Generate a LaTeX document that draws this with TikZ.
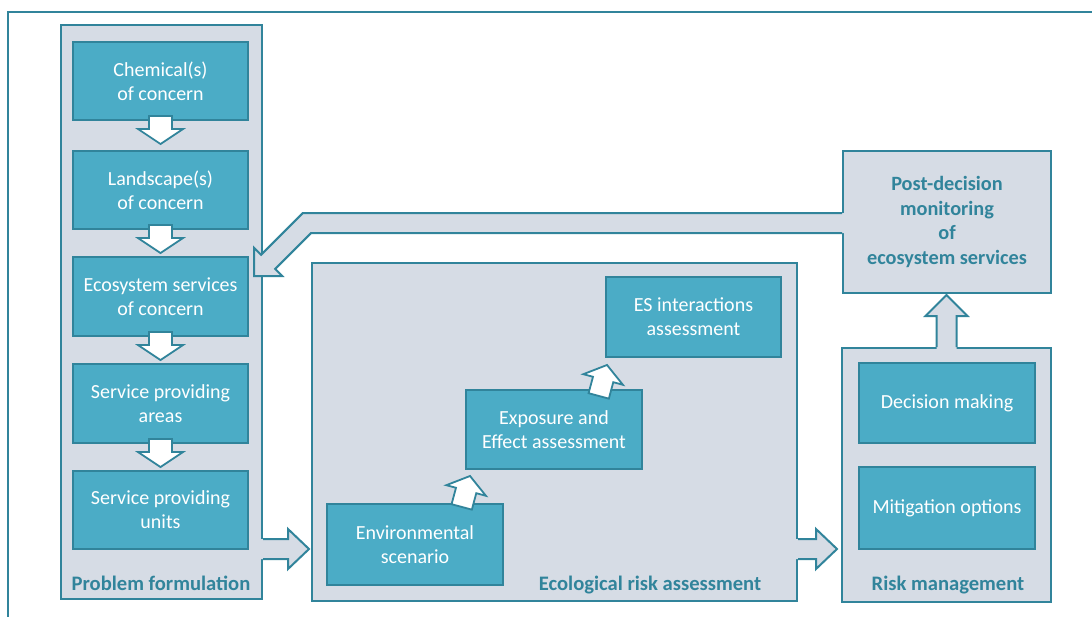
\documentclass[tikz,border=0pt]{standalone}
\usepackage{fontspec}
\setmainfont{Carlito}
\usetikzlibrary{calc}
\definecolor{edgec}{HTML}{31849B}
\definecolor{boxfill}{HTML}{4BACC6}
\definecolor{panelfill}{HTML}{D6DCE5}
\definecolor{labelc}{HTML}{31849B}
\newcommand\dnArrow[1]{%
  \begin{scope}[shift={(#1)}]
    \draw[smallarr] (-11.5,-5) -- (11.5,-5) -- (11.5,8) -- (22.5,8) -- (0,23) -- (-22.5,8) -- (-11.5,8) -- cycle;
  \end{scope}}
\newcommand\tiltArrow[1]{%
  \begin{scope}[shift={(#1)},rotate=-15]
    \draw[smallarr] (0,0) -- (20.5,15) -- (10.5,15) -- (10.5,32) -- (-10.5,32) -- (-10.5,15) -- (-20.5,15) -- cycle;
  \end{scope}}
\newcommand\rArrow[2]{%
  \fill[panelfill] ($(#1)+(-2,-10)$) -- ++(#2+2,0) -- ++(0,-10) -- ++(21,20) -- ++(-21,20) -- ++(0,-10) -- ++(-#2-2,0) -- cycle;
  \draw[bigline] ($(#1)+(0,-10)$) -- ++(#2,0) -- ++(0,-10) -- ++(21,20) -- ++(-21,20) -- ++(0,-10) -- ++(-#2,0);}
\begin{document}
\begin{tikzpicture}[x=1pt,y=-1pt,
  panel/.style={draw=edgec, fill=panelfill, line width=2pt, inner sep=0pt},
  box/.style={draw=edgec, fill=boxfill, line width=2pt, text=white, font=\fontsize{20}{24}\selectfont, align=center, inner sep=0pt},
  lbl/.style={text=labelc, font=\fontsize{20.6}{24}\selectfont\bfseries, inner sep=0pt, align=center},
  smallarr/.style={draw=edgec, fill=white, line width=1.8pt, line join=miter},
  bigline/.style={draw=edgec, line width=2pt, line join=miter}]
\useasboundingbox (0,0) rectangle (1092,616);
\clip (0,0) rectangle (1092,616);
% outer frame
\draw[edgec, line width=1.5pt] (8,12) rectangle (1120,650);
% panels
\node[panel, minimum width=201pt, minimum height=574pt] (pf) at (161.5,312) {};
\node[panel, minimum width=485pt, minimum height=338pt] (era) at (554.5,432) {};
\node[panel, minimum width=209pt, minimum height=254pt] (rm) at (946.5,475) {};
\node[panel, minimum width=208pt, minimum height=142pt, text=labelc, font=\fontsize{20.3}{24.6}\selectfont\bfseries, align=center] (post) at (947,222) {Post-decision\\monitoring\\of\\ecosystem services};
% big arrows
\coordinate (a1) at ($(pf.south east)+(0,-51)$);
\coordinate (a2) at ($(era.south east)+(0,-53)$);
\rArrow{a1}{25}
\rArrow{a2}{18}
% up arrow RM -> post
\fill[panelfill] ($(rm.north)+(-10,2)$) -- ++(0,-33) -- ++(-11,0) -- ++(21,-21) -- ++(21,21) -- ++(-11,0) -- ++(0,33) -- cycle;
\draw[bigline] ($(rm.north)+(-10,0)$) -- ++(0,-31) -- ++(-11,0) -- ++(21,-21) -- ++(21,21) -- ++(-11,0) -- ++(0,31);
% feedback arrow post -> ecosystem services
\coordinate (f1) at ($(post.west)+(0,-9)$);
\coordinate (f2) at ($(post.west)+(0,11)$);
\fill[panelfill] ($(f1)+(2,0)$) -- (302.9,213) -- (261.1,254.8) -- (254,247.8) -- (254,276) -- (282.2,276) -- (275.2,268.9) -- (311.1,233) -- ($(f2)+(2,0)$) -- cycle;
\draw[bigline] (f1) -- (302.9,213) -- (261.1,254.8) -- (254,247.8) -- (254,276) -- (282.2,276) -- (275.2,268.9) -- (311.1,233) -- (f2);
% boxes
\node[box, minimum width=175pt, minimum height=78pt] (chem) at (160.5,81) {Chemical(s)\\of concern};
\node[box, minimum width=175pt, minimum height=78pt] (land) at (160.5,190) {Landscape(s)\\of concern};
\node[box, minimum width=175pt, minimum height=79pt] (eco) at (160.5,296.5) {Ecosystem services\\of concern};
\node[box, minimum width=175pt, minimum height=79pt] (spa) at (160.5,403.5) {Service providing\\areas};
\node[box, minimum width=175pt, minimum height=78pt] (spu) at (160.5,510) {Service providing\\units};
\node[box, minimum width=176pt, minimum height=81pt] (env) at (415,544.5) {Environmental\\scenario};
\node[box, minimum width=176pt, minimum height=79pt] (expo) at (554,429.5) {Exposure and\\Effect assessment};
\node[box, minimum width=175pt, minimum height=80pt] (es) at (693.5,317) {ES interactions\\assessment};
\node[box, minimum width=176pt, minimum height=80pt] (dec) at (947,403) {Decision making};
\node[box, minimum width=176pt, minimum height=82pt] (mit) at (947,508) {Mitigation options};
% small arrows
\dnArrow{chem.south}
\dnArrow{land.south}
\dnArrow{eco.south}
\dnArrow{spa.south}
\tiltArrow{$(env.north)+(55,-27)$}
\tiltArrow{$(expo.north)+(53,-24)$}
% panel labels
\node[lbl, anchor=base] (pfl) at (161,590) {Problem formulation};
\node[lbl, anchor=base] (eral) at (650,590) {Ecological risk assessment};
\node[lbl, anchor=base] (rml) at (948,590) {Risk management};
\end{tikzpicture}
\end{document}
